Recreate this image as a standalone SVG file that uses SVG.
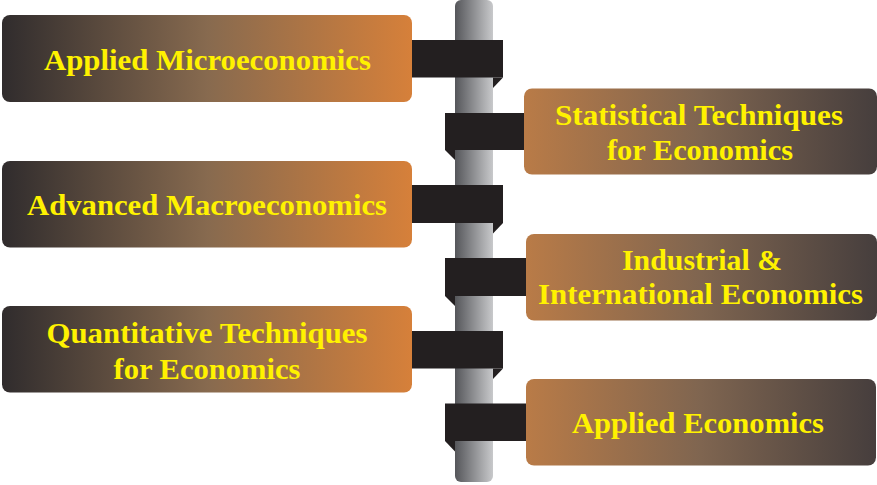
<svg xmlns="http://www.w3.org/2000/svg" width="877" height="485" viewBox="0 0 877 485">
<defs>
<linearGradient id="pole" x1="0" y1="0" x2="1" y2="0">
<stop offset="0" stop-color="#55565a"/>
<stop offset="1" stop-color="#c8c9cb"/>
</linearGradient>
<linearGradient id="gl" x1="0" y1="0.5" x2="1" y2="0.5">
<stop offset="0" stop-color="#302c2d"/>
<stop offset="0.5" stop-color="#876a4f"/>
<stop offset="1" stop-color="#d6803a"/>
</linearGradient>
<linearGradient id="gr" x1="0" y1="0.5" x2="1" y2="0.5">
<stop offset="0" stop-color="#b97b47"/>
<stop offset="0.5" stop-color="#7f6550"/>
<stop offset="1" stop-color="#463e3d"/>
</linearGradient>
</defs>
<style>
.tab{fill:#231f20}
.bl{fill:url(#gl)}
.br{fill:url(#gr)}
text{font-family:"Liberation Serif","Times New Roman",serif;font-weight:bold;font-size:30px;fill:#fff200;text-anchor:middle}
</style>
<rect x="455" y="0" width="38" height="482" rx="6" fill="url(#pole)"/>
<g id="connectors">
<rect class="tab" x="405" y="40" width="98" height="37.5"/>
<polygon class="tab" points="493,77.5 503,77.5 493,88"/>
<rect class="tab" x="445" y="113" width="85" height="37"/>
<polygon class="tab" points="445,150 455,150 455,160"/>
<rect class="tab" x="405" y="185" width="98" height="38"/>
<polygon class="tab" points="493,223 503,223 493,233.5"/>
<rect class="tab" x="445" y="258" width="85" height="38"/>
<polygon class="tab" points="445,296 455,296 455,306"/>
<rect class="tab" x="405" y="331" width="98" height="37.5"/>
<polygon class="tab" points="493,368.5 503,368.5 493,379"/>
<rect class="tab" x="445" y="403.5" width="85" height="37.5"/>
<polygon class="tab" points="445,441 455,441 455,451.5"/>
</g>
<g id="n1">
<rect class="bl" x="2" y="15" width="410" height="87" rx="8"/>
<text x="207.5" y="70" textLength="327" lengthAdjust="spacingAndGlyphs">Applied Microeconomics</text>
</g>
<g id="n2">
<rect class="br" x="524" y="88.5" width="353" height="86" rx="8"/>
<text x="699" y="124.5" textLength="288" lengthAdjust="spacingAndGlyphs">Statistical Techniques</text>
<text x="700" y="159.5" textLength="186" lengthAdjust="spacingAndGlyphs">for Economics</text>
</g>
<g id="n3">
<rect class="bl" x="2" y="161" width="410" height="86.5" rx="8"/>
<text x="207" y="215" textLength="360" lengthAdjust="spacingAndGlyphs">Advanced Macroeconomics</text>
</g>
<g id="n4">
<rect class="br" x="526" y="234" width="351" height="86.5" rx="8"/>
<text x="702" y="270" textLength="160" lengthAdjust="spacingAndGlyphs">Industrial &amp;</text>
<text x="700.5" y="304" textLength="325" lengthAdjust="spacingAndGlyphs">International Economics</text>
</g>
<g id="n5">
<rect class="bl" x="2" y="306" width="410" height="86.5" rx="8"/>
<text x="207" y="343" textLength="321" lengthAdjust="spacingAndGlyphs">Quantitative Techniques</text>
<text x="207" y="378.5" textLength="187" lengthAdjust="spacingAndGlyphs">for Economics</text>
</g>
<g id="n6">
<rect class="br" x="526" y="379" width="350" height="86.5" rx="8"/>
<text x="698" y="433" textLength="252" lengthAdjust="spacingAndGlyphs">Applied Economics</text>
</g>
</svg>
